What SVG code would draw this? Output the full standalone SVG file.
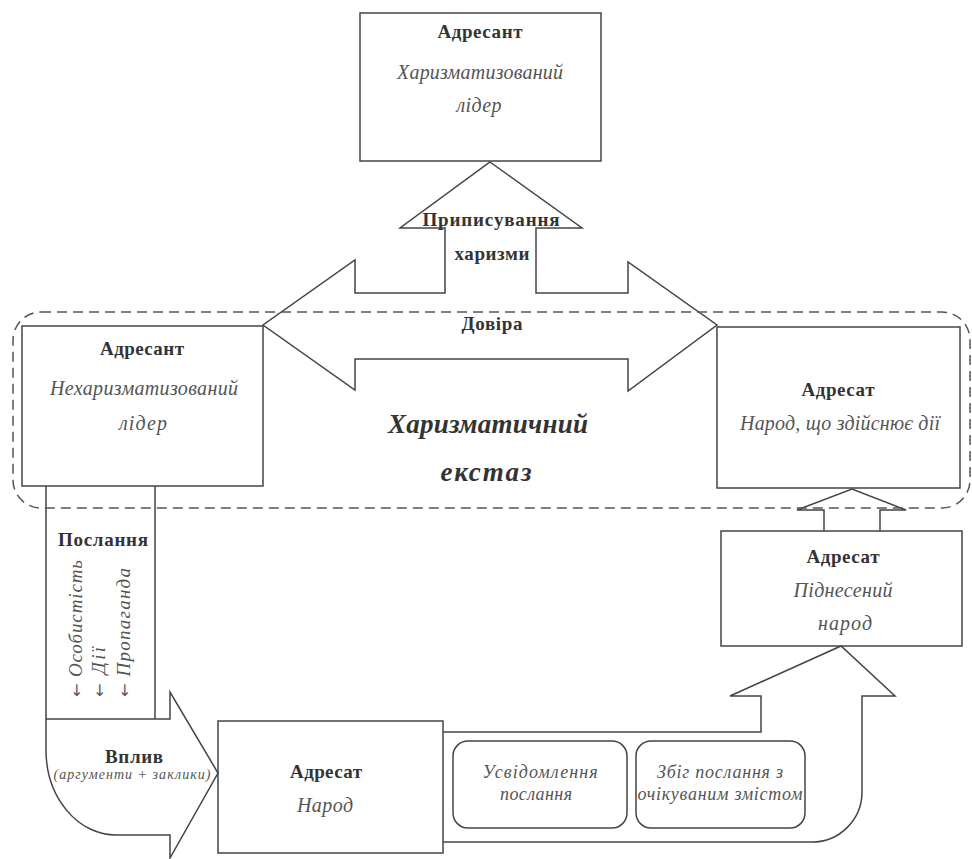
<svg xmlns="http://www.w3.org/2000/svg" width="972" height="859" viewBox="0 0 972 859">
<style>
.box{fill:none;stroke:#444;stroke-width:1.5}
.ln{fill:none;stroke:#444;stroke-width:1.5;stroke-linejoin:miter}
.dash{fill:none;stroke:#555;stroke-width:1.5;stroke-dasharray:10 6}
.b{font-family:"Liberation Serif","Times New Roman",serif;font-weight:bold;font-size:19px;fill:#333;text-anchor:middle}
.i{font-family:"Liberation Serif","Times New Roman",serif;font-style:italic;font-size:20px;fill:#555;text-anchor:middle}
.is{font-family:"Liberation Serif","Times New Roman",serif;font-style:italic;font-size:18px;fill:#555;text-anchor:middle}
.rot{font-family:"Liberation Serif","Times New Roman",serif;font-style:italic;font-size:19px;fill:#555}
.arr{font-family:"DejaVu Sans",sans-serif;font-style:normal;font-size:16px;fill:#555}
.big{font-family:"Liberation Serif","Times New Roman",serif;font-style:italic;font-weight:bold;font-size:27px;fill:#333;text-anchor:middle}
</style>
<rect width="972" height="859" fill="#fff"/>

<g id="connectors">
  <path id="arrow-charisma-trust" class="ln" d="M490,162 L582,228 L536,228 L536,293 L628,293 L628,262 L717,325 L628,391 L628,359 L355,359 L355,390 L263,325 L355,260 L355,293 L445,293 L445,228 L400,228 Z"/>
  <path id="arrow-small-up" class="ln" d="M824,531 L824,510 L797,510 L852,489 L906,510 L880,510 L880,531"/>
  <path id="arrow-big-up" class="ln" d="M443,732 L761,732 L761,696 L730,696 L841,646 L895,696 L862,696 L862,792 A50,50 0 0 1 812,842 L443,842"/>
  <path id="arrow-message-influence" class="ln" d="M46,486 L46,750 A70,85 0 0 0 116,835 L170,835 L170,858 L218,773 L170,692 L170,719 L46,719"/>
  <path class="ln" d="M155,486 L155,719"/>
</g>

<g id="dashed-zone">
  <rect class="dash" x="13" y="312" width="957" height="196" rx="28"/>
</g>

<g id="node-top">
  <rect class="box" x="360" y="13" width="241" height="148"/>
  <text class="b" x="480" y="38" textLength="85">Адресант</text>
  <text class="i" x="480" y="79" textLength="166">Харизматизований</text>
  <text class="i" x="479" y="112" textLength="45">лідер</text>
</g>

<g id="node-left">
  <rect class="box" x="22" y="326" width="241" height="160"/>
  <text class="b" x="142" y="355" textLength="84">Адресант</text>
  <text class="i" x="144" y="395" textLength="188">Нехаризматизований</text>
  <text class="i" x="143" y="430" textLength="48">лідер</text>
</g>

<g id="node-right">
  <rect class="box" x="717" y="327" width="243" height="161"/>
  <text class="b" x="838" y="396" textLength="73">Адресат</text>
  <text class="i" x="840" y="430" textLength="200">Народ, що здійснює дії</text>
</g>

<g id="node-right-lower">
  <rect class="box" x="721" y="531" width="241" height="115"/>
  <text class="b" x="843" y="563" textLength="73">Адресат</text>
  <text class="i" x="843" y="597" textLength="99">Піднесений</text>
  <text class="i" x="845" y="630" textLength="54">народ</text>
</g>

<g id="node-people">
  <rect class="box" x="218" y="721" width="225" height="132"/>
  <text class="b" x="326" y="778" textLength="72">Адресат</text>
  <text class="i" x="325" y="812" textLength="56">Народ</text>
</g>

<g id="node-awareness">
  <rect class="box" x="453" y="741" width="174" height="87" rx="15"/>
  <text class="is" x="540" y="778" textLength="115">Усвідомлення</text>
  <text class="is" x="536" y="800" textLength="72">послання</text>
</g>

<g id="node-match">
  <rect class="box" x="636" y="741" width="169" height="87" rx="15"/>
  <text class="is" x="720" y="778" textLength="126">Збіг послання з</text>
  <text class="is" x="720" y="800" textLength="165">очікуваним змістом</text>
</g>

<g id="labels">
  <text class="b" x="491" y="226" textLength="137">Приписування</text>
  <text class="b" x="492" y="260" textLength="75">харизми</text>
  <text class="b" x="492" y="330" textLength="61">Довіра</text>
  <text class="big" x="488" y="433" textLength="200">Харизматичний</text>
  <text class="big" x="486" y="481" textLength="91">екстаз</text>
  <text class="b" x="103" y="546" textLength="90">Послання</text>
  <text class="rot" transform="translate(82,697) rotate(-90)" textLength="137"><tspan class="arr">←</tspan> Особистість</text>
  <text class="rot" transform="translate(105,697) rotate(-90)" textLength="50"><tspan class="arr">←</tspan> Дії</text>
  <text class="rot" transform="translate(130,697) rotate(-90)" textLength="129"><tspan class="arr">←</tspan> Пропаганда</text>
  <text class="b" x="134" y="763" textLength="58">Вплив</text>
  <text class="is" x="132" y="779" style="font-size:14px" textLength="157">(аргументи + заклики)</text>
</g>
</svg>
